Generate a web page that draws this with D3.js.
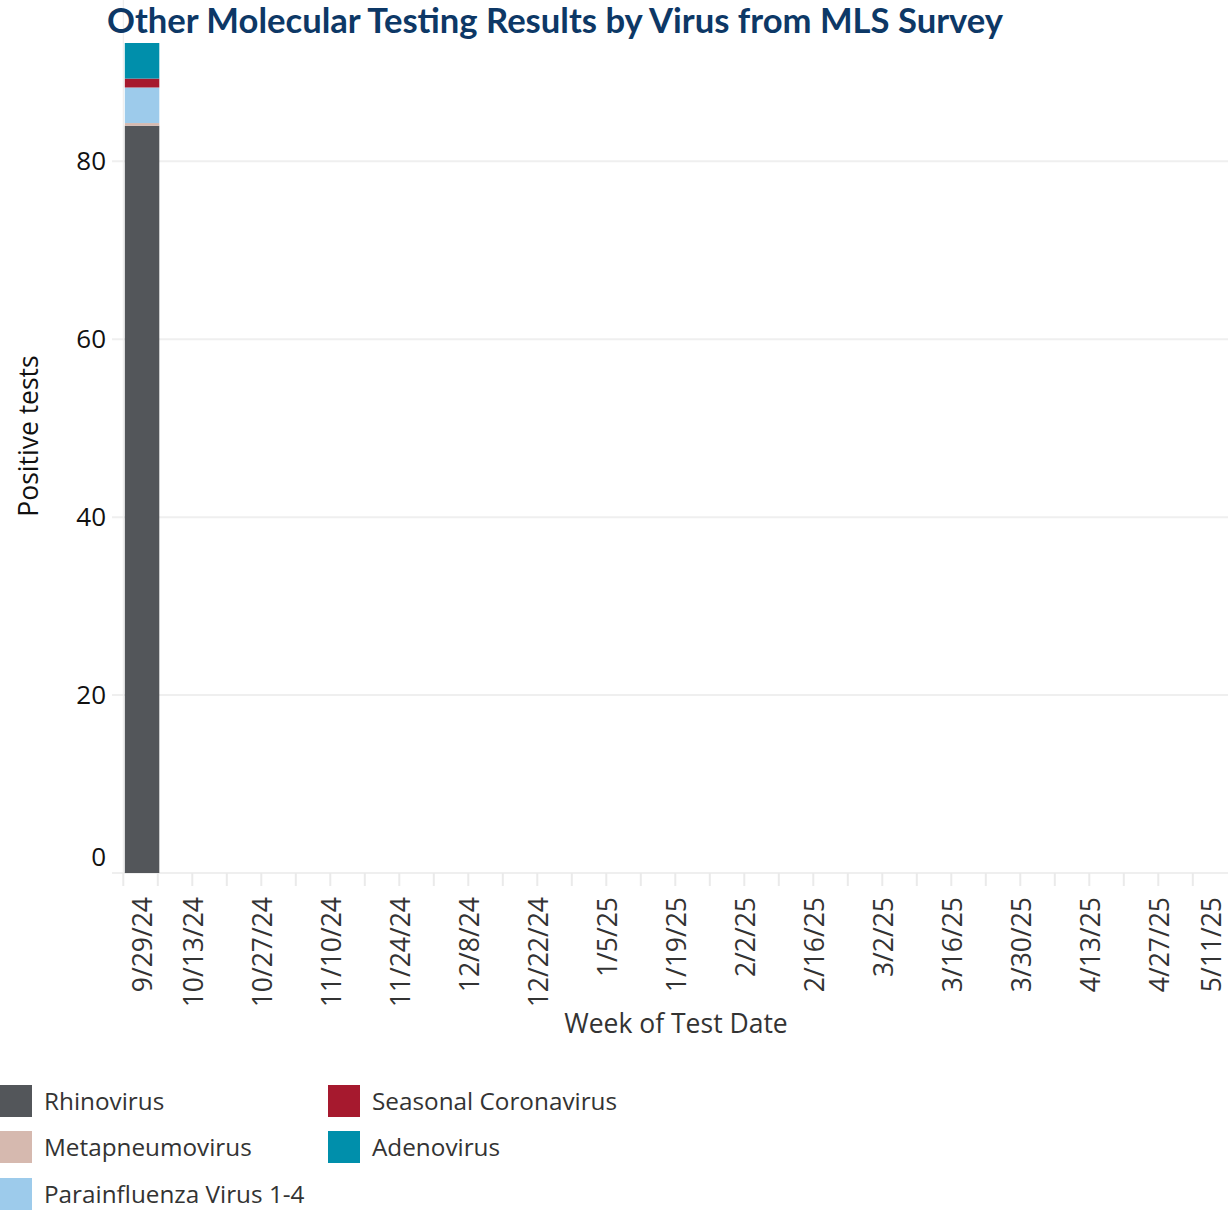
<!DOCTYPE html>
<html>
<head>
<meta charset="utf-8">
<script src="https://cdn.jsdelivr.net/npm/d3@7"></script>
<style>
  body { margin: 0; background: #fff; }
  svg { display: block; }
</style>
</head>
<body>
<svg id="chart" width="1228" height="1211"></svg>
<script>
// weekly counts, one entry per week that has data
var weeks = ["2024-09-29"];
var rhinovirus = [84];
var metapneumovirus = [0.3];
var parainfluenza = [4];
var seasonalCoronavirus = [1];
var adenovirus = [4];

var seriesNames = ["Rhinovirus", "Metapneumovirus", "Parainfluenza Virus 1-4",
                   "Seasonal Coronavirus", "Adenovirus"];
var seriesColors = ["#53565a", "#d6b9af", "#9dcbeb", "#a6192e", "#008fab"];

var tickDates = ["2024-09-29", "2024-10-13", "2024-10-27", "2024-11-10", "2024-11-24",
                 "2024-12-08", "2024-12-22", "2025-01-05", "2025-01-19", "2025-02-02",
                 "2025-02-16", "2025-03-02", "2025-03-16", "2025-03-30", "2025-04-13",
                 "2025-04-27", "2025-05-11"];
var yTicks = [0, 20, 40, 60, 80];

var parse = d3.utcParse("%Y-%m-%d");
var fmt = d3.utcFormat("%-m/%-d/%y");

var svg = d3.select("#chart");
var plotLeft = 112, plotRight = 1228;

var x = d3.scaleUtc()
    .domain([parse("2024-09-29"), parse("2025-05-11")])
    .range([123.3, 1227.3]);
var y = d3.scaleLinear()
    .domain([0, 93.3])
    .range([873, 43]);

// build table for stacking
var table = weeks.map(function(w, i) {
    return {
        week: parse(w),
        "Rhinovirus": rhinovirus[i],
        "Metapneumovirus": metapneumovirus[i],
        "Parainfluenza Virus 1-4": parainfluenza[i],
        "Seasonal Coronavirus": seasonalCoronavirus[i],
        "Adenovirus": adenovirus[i]
    };
});
var stacked = d3.stack().keys(seriesNames)(table);

// gridlines
svg.append("g")
  .selectAll("line")
  .data(yTicks)
  .enter().append("line")
    .attr("x1", plotLeft).attr("x2", plotRight)
    .attr("y1", function(d) { return y(d); })
    .attr("y2", function(d) { return y(d); })
    .attr("stroke", "#efefef")
    .attr("stroke-width", 2);

// faint line at first week
svg.append("line")
    .attr("x1", x(parse("2024-09-29"))).attr("x2", x(parse("2024-09-29")))
    .attr("y1", 0).attr("y2", y(0))
    .attr("stroke", "#ececec")
    .attr("stroke-width", 1);

// weekly tick marks
var weekTicks = d3.utcWeek.every(1).range(parse("2024-09-29"), parse("2025-05-11"));
svg.append("g")
  .selectAll("line")
  .data(weekTicks)
  .enter().append("line")
    .attr("x1", function(d) { return x(d); })
    .attr("x2", function(d) { return x(d); })
    .attr("y1", y(0)).attr("y2", y(0) + 13)
    .attr("stroke", "#eaeaea")
    .attr("stroke-width", 2);

// bars
var layers = svg.append("g")
  .selectAll("g")
  .data(stacked)
  .enter().append("g")
    .attr("fill", function(d, i) { return seriesColors[i]; });

layers.selectAll("rect")
  .data(function(d) { return d; })
  .enter().append("rect")
    .attr("x", function(d) { return x(d.data.week) + 1.5; })
    .attr("width", function(d) { return x(d3.utcDay.offset(d.data.week, 7)) - x(d.data.week); })
    .attr("y", function(d) { return y(d[1]); })
    .attr("height", function(d) { return y(d[0]) - y(d[1]); });

// y tick labels
svg.append("g")
  .selectAll("text")
  .data(yTicks)
  .enter().append("text")
    .attr("x", 106)
    .attr("y", function(d) { return d === 0 ? y(d) - 16 : y(d); })
    .attr("dy", "0.35em")
    .attr("text-anchor", "end")
    .attr("font-family", "Open Sans")
    .attr("font-size", 26)
    .attr("fill", "#111")
    .text(function(d) { return d; });

// x tick labels, rotated; edge labels pulled inside like the original
svg.append("g")
  .selectAll("text")
  .data(tickDates)
  .enter().append("text")
    .attr("transform", function(d, i) {
        var px = x(parse(d)) + 1.5;
        if (i === 0) px = 143;
        if (i === tickDates.length - 1) px = 1212;
        return "translate(" + px + ",897) rotate(-90)";
    })
    .attr("dy", "0.35em")
    .attr("text-anchor", "end")
    .attr("font-family", "Open Sans")
    .attr("font-size", 26.5)
    .attr("fill", "#333")
    .text(function(d) { return fmt(parse(d)); });

// axis titles
svg.append("text")
    .attr("x", 676).attr("y", 1033)
    .attr("text-anchor", "middle")
    .attr("font-family", "Open Sans")
    .attr("font-size", 26.5)
    .attr("fill", "#333")
    .text("Week of Test Date");

svg.append("text")
    .attr("transform", "translate(38,436) rotate(-90)")
    .attr("text-anchor", "middle")
    .attr("font-family", "Open Sans")
    .attr("font-size", 26.5)
    .attr("fill", "#111")
    .text("Positive tests");

// title
svg.append("text")
    .attr("x", 107).attr("y", 33)
    .attr("font-family", "Lato")
    .attr("font-weight", "bold")
    .attr("font-size", 34)
    .attr("fill", "#0d3866")
    .attr("textLength", 896)
    .attr("lengthAdjust", "spacingAndGlyphs")
    .text("Other Molecular Testing Results by Virus from MLS Survey");

// legend, filled down the columns
var legendPos = [[0, 1085], [0, 1131], [0, 1178], [328, 1085], [328, 1131]];
var legend = svg.append("g")
  .selectAll("g")
  .data(seriesNames)
  .enter().append("g")
    .attr("transform", function(d, i) {
        return "translate(" + legendPos[i][0] + "," + legendPos[i][1] + ")";
    });
legend.append("rect")
    .attr("width", 32).attr("height", 32)
    .attr("fill", function(d, i) { return seriesColors[i]; });
legend.append("text")
    .attr("x", 44).attr("y", 16)
    .attr("dy", "0.35em")
    .attr("font-family", "Open Sans")
    .attr("font-size", 24.3)
    .attr("fill", "#333")
    .text(function(d) { return d; });
</script>
</body>
</html>
